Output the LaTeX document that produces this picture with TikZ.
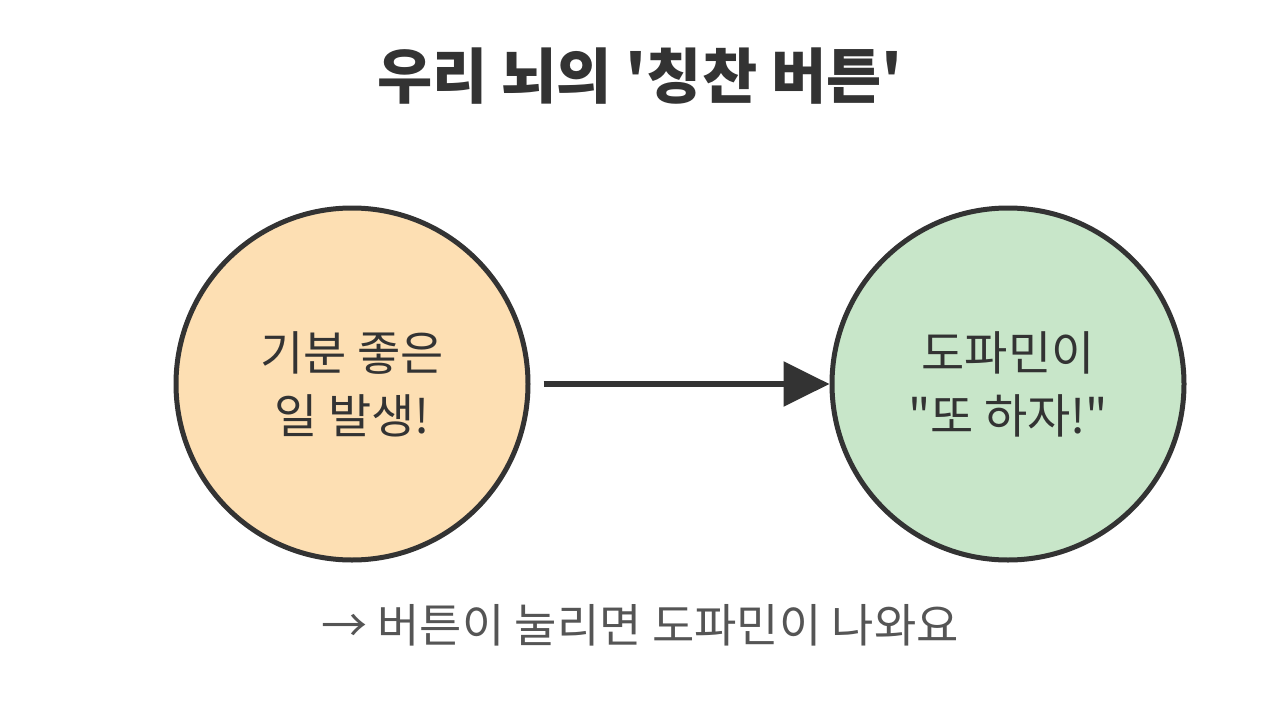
\documentclass[tikz,border=0pt]{standalone}
\usepackage{fontspec}
\setmainfont{Noto Sans CJK KR}[Ligatures=TeXOff]
\usetikzlibrary{arrows.meta}
\definecolor{ink}{HTML}{333333}
\definecolor{peach}{HTML}{FDDFB3}
\definecolor{mint}{HTML}{C8E6C9}
\definecolor{note}{HTML}{555555}
\tikzset{
  bubble/.style={circle, draw=ink, line width=5pt, minimum size=352pt, inner sep=0pt,
    align=center, text=ink, font=\fontsize{47}{63}\selectfont},
  link/.style={draw=ink, line width=6pt, -{Triangle[length=46pt,width=44pt]}},
}
\begin{document}
\begin{tikzpicture}[x=1pt,y=-1pt]
\useasboundingbox (0,0) rectangle (1280,704);
\fill[white] (0,0) rectangle (1280,704);
\node[text=ink, font=\fontsize{60}{70}\selectfont\bfseries] (title) at (640,76) {우리 뇌의 '칭찬 버튼'};
\node[bubble, fill=peach] (good) at (352,384) {기분 좋은\\일 발생!};
\node[bubble, fill=mint] (dopa) at (1008,384) {도파민이\\"또 하자!"};
\draw[link, shorten <=13pt] (good) -- (dopa);
\node[text=note, font=\fontsize{46}{54}\selectfont] (caption) at (640,625) {→ 버튼이 눌리면 도파민이 나와요};
\end{tikzpicture}
\end{document}
